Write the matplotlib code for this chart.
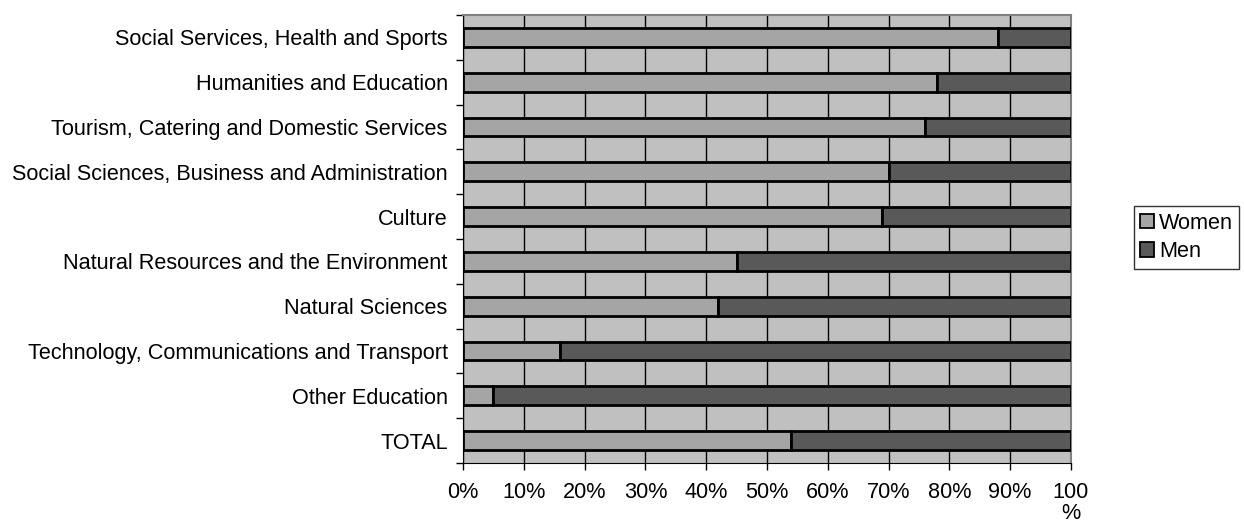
import matplotlib
matplotlib.use("Agg")
import matplotlib.pyplot as plt
from matplotlib.patches import Patch

# Share of women and men by field of education (%), top to bottom
FIELDS = [
    "Social Services, Health and Sports",
    "Humanities and Education",
    "Tourism, Catering and Domestic Services",
    "Social Sciences, Business and Administration",
    "Culture",
    "Natural Resources and the Environment",
    "Natural Sciences",
    "Technology, Communications and Transport",
    "Other Education",
    "TOTAL",
]
WOMEN = [88, 78, 76, 70, 69, 45, 42, 16, 5, 54]
MEN = [12, 22, 24, 30, 31, 55, 58, 84, 95, 46]
X_TICKS = [0, 10, 20, 30, 40, 50, 60, 70, 80, 90, 100]
X_LABELS = ["0%", "10%", "20%", "30%", "40%", "50%", "60%", "70%", "80%",
            "90%", "100\n%"]

WOMEN_COLOR = "#a5a5a5"
MEN_COLOR = "#595959"
BG_COLOR = "#c0c0c0"
FS = 15.6

plt.rcParams.update({
    "font.family": ["Liberation Sans", "DejaVu Sans"],
    "font.size": FS,
})

fig = plt.figure(figsize=(12.44, 5.27), dpi=100)
ax = fig.add_axes([0.3722, 0.1214, 0.4887, 0.8501])
ax.set_facecolor(BG_COLOR)

n = len(FIELDS)
ypos = list(range(n - 1, -1, -1))
ax.barh(ypos, WOMEN, height=0.42, color=WOMEN_COLOR, edgecolor="black",
        linewidth=2.0, zorder=3)
ax.barh(ypos, MEN, left=WOMEN, height=0.42, color=MEN_COLOR,
        edgecolor="black", linewidth=2.0, zorder=3)

ax.set_xlim(0, 100)
ax.set_ylim(-0.5, n - 0.5)
ax.set_xticks(X_TICKS)
ax.set_xticklabels(X_LABELS, fontsize=FS, linespacing=0.95, va="top")
ax.set_yticks(ypos)
ax.set_yticklabels(FIELDS, fontsize=FS)
ax.set_yticks([i - 0.5 for i in range(n + 1)], minor=True)
ax.tick_params(axis="y", which="major", length=0, pad=11)
ax.tick_params(axis="y", which="minor", length=5, width=1, color="black",
               direction="out")
ax.tick_params(axis="x", length=5, width=1, direction="out", pad=9)

ax.grid(True, axis="x", color="black", linewidth=1.0, zorder=1)
ax.set_axisbelow(True)
for side in ("top", "right"):
    ax.spines[side].set_color("#808080")
    ax.spines[side].set_linewidth(1.5)
ax.spines["left"].set_color("black")
ax.spines["bottom"].set_color("black")

handles = [
    Patch(facecolor=WOMEN_COLOR, edgecolor="black", linewidth=1.3, label="Women"),
    Patch(facecolor=MEN_COLOR, edgecolor="black", linewidth=1.3, label="Men"),
]
fig.legend(handles=handles, loc="upper left", bbox_to_anchor=(0.9115, 0.609),
           frameon=True, fancybox=False, edgecolor="black", fontsize=FS,
           handlelength=0.65, handleheight=0.65, handletextpad=0.2,
           labelspacing=0.35, borderpad=0.3, borderaxespad=0)

fig.savefig("out.png", dpi=100)
